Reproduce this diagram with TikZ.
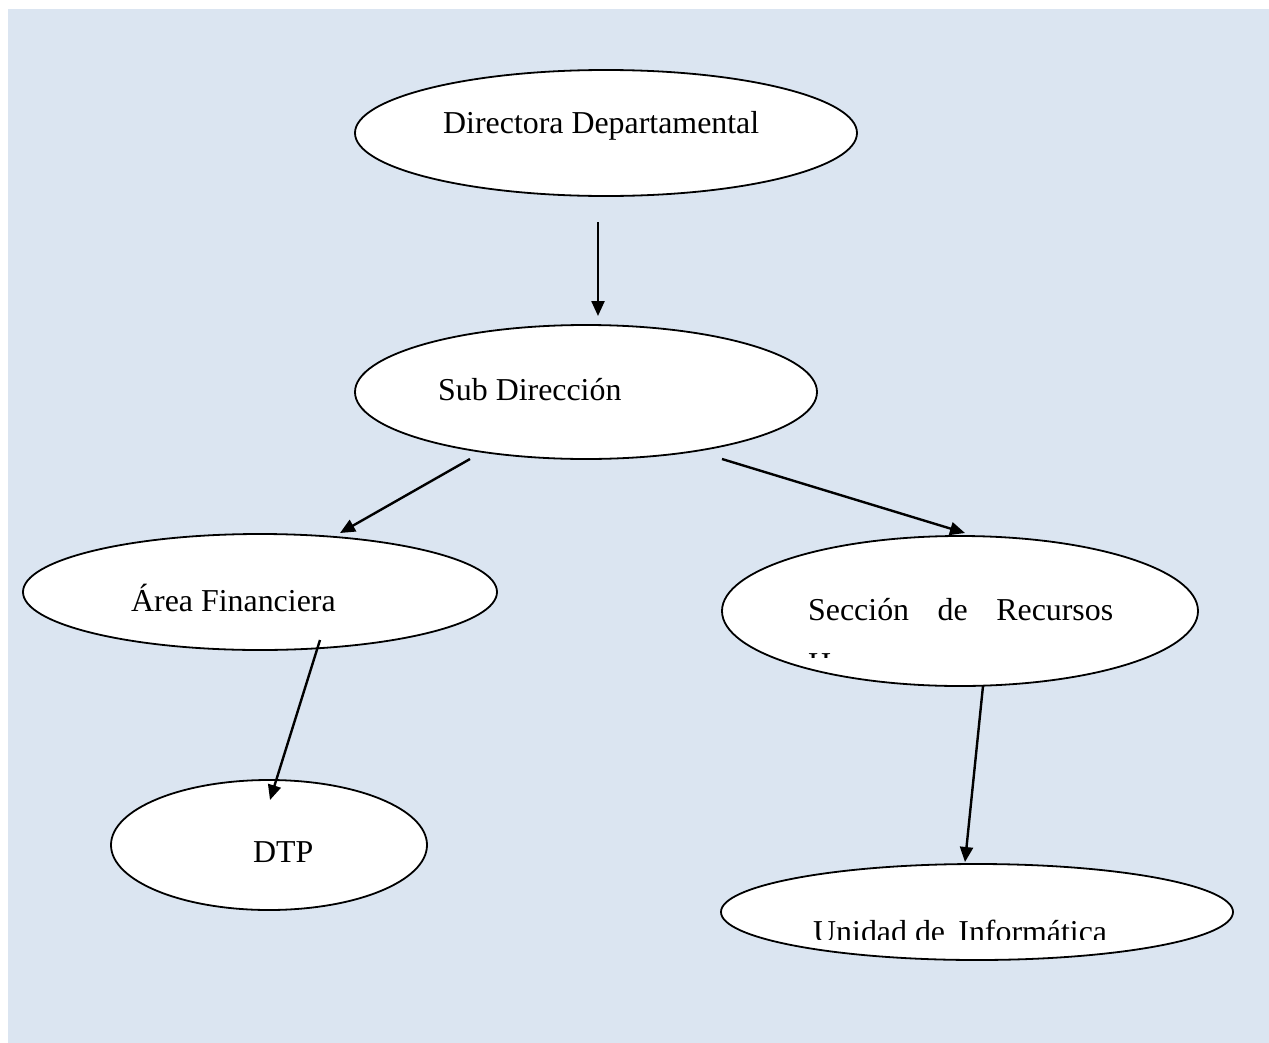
\documentclass[tikz,border=0pt]{standalone}
\usepackage{fontspec}
\setmainfont{Liberation Serif}
\usetikzlibrary{arrows.meta,shapes.geometric}
\definecolor{bg}{HTML}{DBE5F1}
\begin{document}
\begin{tikzpicture}[x=1bp,y=-1bp,
  oval/.style={ellipse, draw=black, line width=1.8bp, fill=white, inner sep=0pt},
  conn/.style={line width=2.4bp, -{Triangle[length=15bp,width=13bp]}},
  lbl/.style={font=\fontsize{32}{38}\selectfont, inner sep=0pt, anchor=base west}]
\useasboundingbox (0,0) rectangle (1269,1043);
\fill[white] (0,0) rectangle (1269,1043);
\fill[bg] (8,9) rectangle (1269,1043);
% ovals
\node[oval, minimum width=502bp, minimum height=126bp] (dir) at (606,133) {};
\node[oval, minimum width=462bp, minimum height=134bp] (sub) at (586,392) {};
\node[oval, minimum width=474bp, minimum height=116bp] (fin) at (260,592) {};
\node[oval, minimum width=476bp, minimum height=150bp] (rrhh) at (960,611) {};
\node[oval, minimum width=316bp, minimum height=130bp] (dtp) at (269,845) {};
\node[oval, minimum width=512bp, minimum height=96bp] (inf) at (977,912) {};
% labels
\node[lbl] (tdir) at (443,133) {Directora Departamental};
\node[lbl] (tsub) at (438,400) {Sub Dirección};
\node[lbl] (tfin) at (131,611) {Área Financiera};
\node[lbl] (trrhh) at (808,620) {\makebox[305bp][s]{Sección\hfill de\hfill Recursos}};
\begin{scope}
  \clip (700,600) rectangle (1200,657);
  \node[lbl] (trrhh2) at (808,674) {Humanos};
\end{scope}
\node[lbl] (tdtp) at (253,862) {DTP};
\begin{scope}
  \clip (700,880) rectangle (1240,939);
  \node[lbl] (tinf) at (813,942) {Unidad de\, Informática};
\end{scope}
% connector endpoints
\coordinate (a1) at (598,222); \coordinate (a2) at (598,316);
\coordinate (b1) at (470,459); \coordinate (b2) at (340,533);
\coordinate (c1) at (722,459); \coordinate (c2) at (965,533);
\coordinate (d1) at (320,640); \coordinate (d2) at (270,800);
\coordinate (e1) at (983,686); \coordinate (e2) at (965,862);
\draw[conn] (a1) -- (a2);
\draw[conn] (b1) -- (b2);
\draw[conn] (c1) -- (c2);
\draw[conn] (d1) -- (d2);
\draw[conn] (e1) -- (e2);
\end{tikzpicture}
\end{document}
